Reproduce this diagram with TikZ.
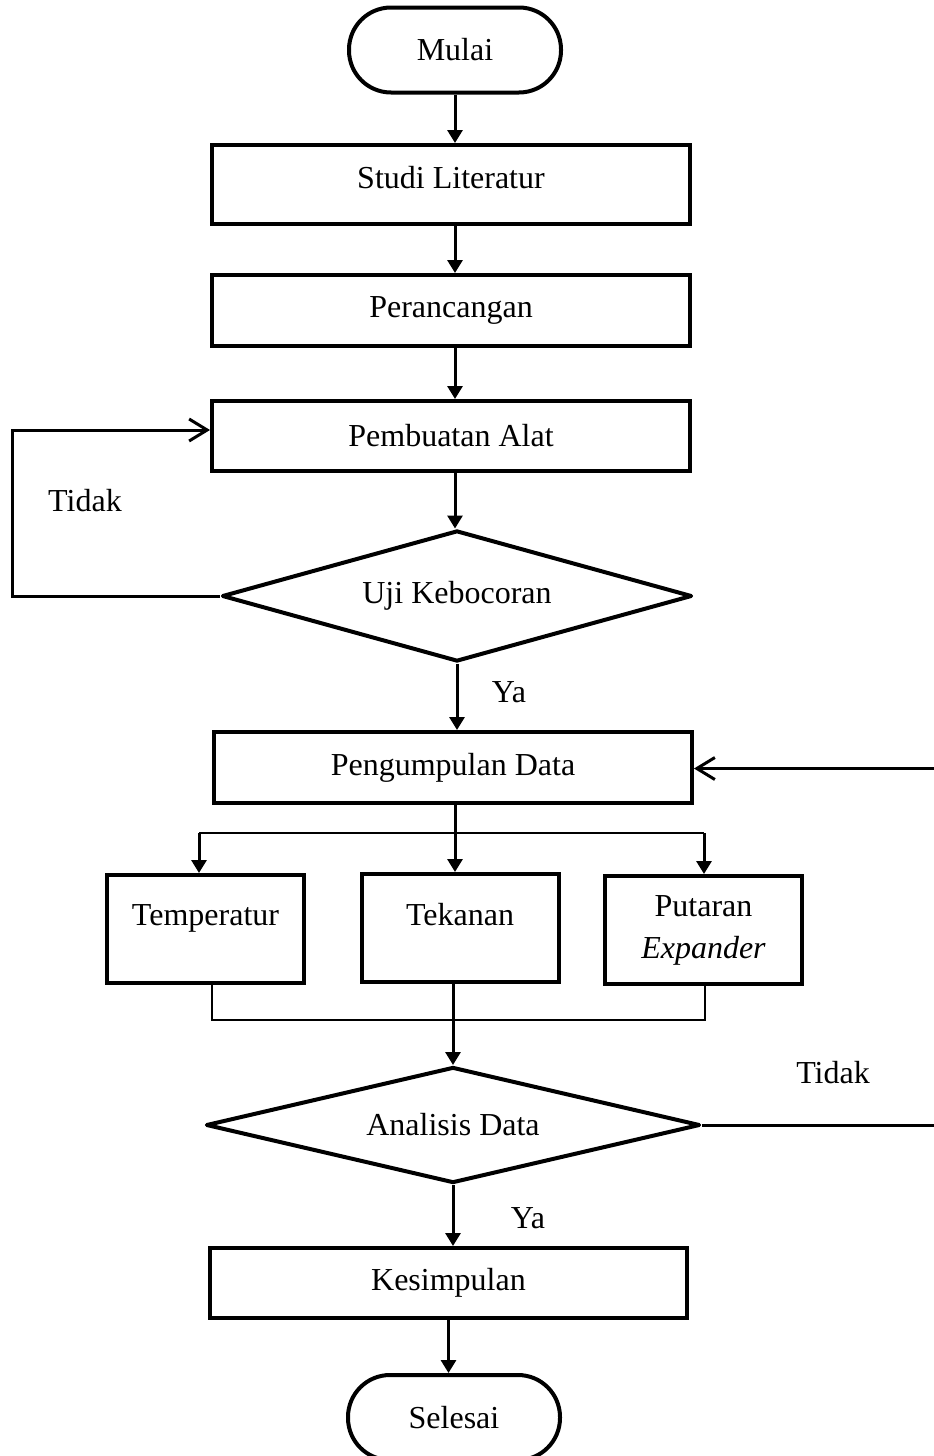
\documentclass[tikz,border=0pt]{standalone}
\usepackage{fontspec}
\setmainfont{Liberation Serif}
\usetikzlibrary{shapes.geometric,arrows.meta,calc}
\begin{document}
\begin{tikzpicture}[x=0.5pt,y=-0.5pt,
  txt/.style={font=\fontsize{16}{21}\selectfont},
  box/.style={txt,draw,line width=2pt,rectangle,inner sep=0pt,minimum width=239pt,minimum height=35.5pt},
  small/.style={txt,draw,line width=2pt,rectangle,inner sep=0pt,minimum width=98.5pt,minimum height=54pt,align=center},
  term/.style={txt,draw,line width=2pt,rectangle,rounded corners=21pt,inner sep=0pt,minimum width=106pt,minimum height=42.5pt},
  decision/.style={txt,draw,line width=2pt,diamond,inner sep=0pt,line join=round},
  conn/.style={line width=1.5pt},
  arr/.style={conn,-{Triangle[length=6.5pt,width=7.5pt]}},
  back/.style={conn,-{Straight Barb[length=9pt,width=11pt,line width=1.5pt]}},
  thin/.style={line width=1.3pt},
  lbl/.style={txt,inner sep=0pt}
]
\useasboundingbox (0,0) rectangle (933,1456);

\node[term] (mulai) at (455,50) {Mulai};
\node[box,minimum height=39.5pt,text depth=7pt] (studi) at (451,184.5) {Studi Literatur};
\node[box] (ranc) at (451,310.5) {Perancangan};
\node[box,minimum height=35pt] (buat) at (451,436) {Pembuatan Alat};
\node[decision,aspect=3.6,minimum width=235pt,minimum height=65.5pt] (uji) at (457,596) {Uji Kebocoran};
\node[box] (kumpul) at (453,767.5) {Pengumpulan Data};
\node[small,text depth=14pt] (temp) at (205.5,929) {Temperatur};
\node[small,text depth=14pt] (tek) at (460,928) {Tekanan};
\node[small] (put) at (703.5,930) {Putaran\\\textit{Expander}};
\node[decision,aspect=4.2,minimum width=247pt,minimum height=58pt] (ana) at (453,1125) {Analisis Data};
\node[box,minimum width=238.5pt,minimum height=35pt] (simp) at (448.5,1283) {Kesimpulan};
\node[term] (selesai) at (454,1417.5) {Selesai};

\node[lbl] (tidak1) at (85,501) {Tidak};
\node[lbl] (ya1) at (509,692) {Ya};
\node[lbl] (tidak2) at (833,1073) {Tidak};
\node[lbl] (ya2) at (528,1218) {Ya};

% main vertical flow
\draw[arr] (mulai.south) -- (mulai.south |- studi.north);
\draw[arr] (455,0 |- studi.south) -- (455,0 |- ranc.north);
\draw[arr] (455,0 |- ranc.south) -- (455,0 |- buat.north);
\draw[arr] (455,0 |- buat.south) -- (455,0 |- uji.north);
\draw[arr] (uji.south) -- (uji.south |- kumpul.north);

% leak loop
\coordinate (lc) at (12,596);
\draw[back] (uji.west) -- (lc) |- ([yshift=3pt]buat.west);

% branching
\coordinate (bc) at (455,833);
\coordinate (bl) at (199,833);
\coordinate (br) at (704,833);
\draw[conn] (455,0 |- kumpul.south) -- (bc);
\draw[thin] (bl) -- (br);
\draw[arr] (bl) -- (bl |- temp.north);
\draw[arr] (bc) -- (bc |- tek.north);
\draw[arr] (br) -- (br |- put.north);

% joining
\coordinate (jl) at (212,1020);
\coordinate (jr) at (705,1020);
\coordinate (jc) at (453,1020);
\draw[thin] (jl |- temp.south) -- (jl) -- (jr) -- (jr |- put.south);
\draw[arr] (jc |- tek.south) -- (ana.north);

% analysis loop
\coordinate (rc) at (940,1125);
\draw[back] (ana.east) -- (rc) |- ([yshift=-0.5pt]kumpul.east);

\draw[arr] (ana.south) -- (ana.south |- simp.north);
\draw[arr] (simp.south) -- (simp.south |- selesai.north);
\end{tikzpicture}
\end{document}
